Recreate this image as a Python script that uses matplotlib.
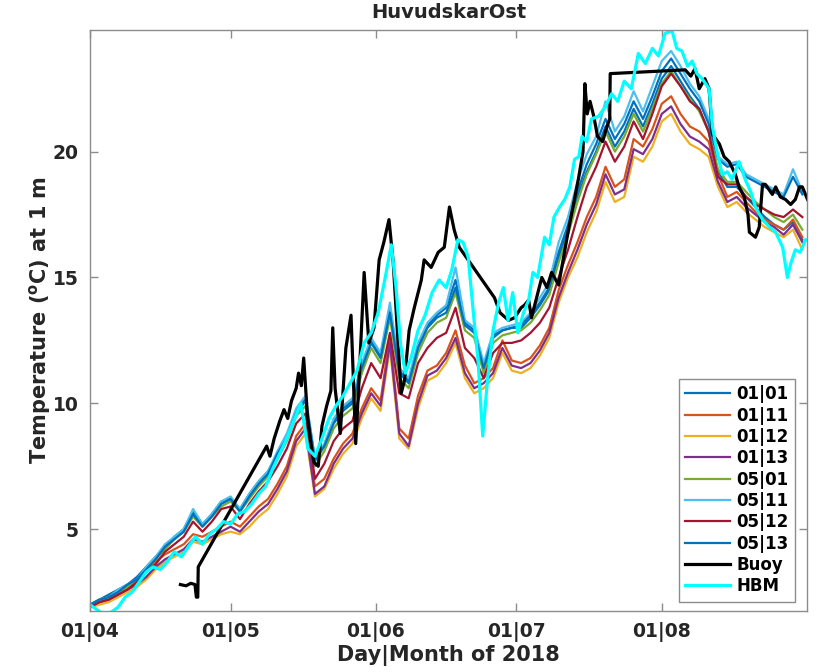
import numpy as np
import matplotlib
matplotlib.use('Agg')
import matplotlib.pyplot as plt

plt.rcParams['font.family'] = ['DejaVu Sans']
plt.rcParams['font.weight'] = 'bold'
plt.rcParams['mathtext.fontset'] = 'dejavusans'

# model output sampled every 2 days from 01|04 (day 0) to day 152
model_days = np.arange(0, 153, 2)

m_0101 = [2.0, 2.2, 2.4, 2.6, 2.8, 3.1, 3.5, 3.9, 4.3, 4.7,
          5.0, 5.7, 5.2, 5.6, 6.1, 6.2, 5.8, 6.4, 6.9, 7.3,
          8.0, 8.7, 9.7, 10.2, 7.8, 8.3, 9.3, 9.8, 10.1, 11.5,
          12.5, 11.9, 13.8, 11.3, 10.9, 12.3, 13.1, 13.5, 13.8, 14.9,
          13.2, 12.9, 11.5, 12.7, 12.9, 13.0, 13.0, 13.4, 13.9, 14.5,
          15.8, 16.9, 18.2, 19.2, 20.0, 21.0, 20.2, 20.8, 21.7, 21.0,
          21.9, 22.9, 23.4, 22.8, 22.2, 21.7, 20.8, 19.2, 18.6, 18.6,
          18.2, 17.8, 17.4, 17.1, 16.9, 17.2, 16.5]
m_0111 = [2.0, 2.1, 2.3, 2.5, 2.7, 2.9, 3.3, 3.7, 4.0, 4.2,
          4.4, 4.8, 4.7, 4.9, 5.1, 5.3, 5.1, 5.5, 5.9, 6.2,
          6.8, 7.5, 8.7, 9.2, 6.7, 7.0, 7.8, 8.4, 8.8, 9.8,
          10.6, 10.1, 12.7, 9.0, 8.6, 10.3, 11.3, 11.5, 12.0, 12.9,
          11.5, 10.8, 11.0, 11.4, 12.5, 11.7, 11.6, 11.8, 12.3, 13.0,
          14.5, 15.5, 16.4, 17.4, 18.2, 19.4, 18.6, 18.9, 20.5, 20.2,
          20.9, 21.9, 22.2, 21.5, 21.0, 20.8, 20.4, 19.1, 18.2, 18.4,
          18.0, 17.6, 17.3, 17.1, 16.9, 17.3, 16.6]
m_0112 = [1.9, 2.0, 2.1, 2.3, 2.5, 2.7, 3.0, 3.4, 3.7, 3.9,
          4.1, 4.5, 4.4, 4.6, 4.8, 4.9, 4.8, 5.1, 5.5, 5.8,
          6.4, 7.1, 8.3, 8.8, 6.3, 6.6, 7.4, 8.0, 8.4, 9.4,
          10.2, 9.7, 12.2, 8.6, 8.2, 9.8, 10.9, 11.1, 11.6, 12.4,
          11.0, 10.4, 10.6, 11.0, 12.0, 11.3, 11.2, 11.4, 11.9, 12.6,
          14.0, 15.0, 15.8, 16.8, 17.6, 18.8, 18.0, 18.2, 19.8, 19.6,
          20.2, 21.2, 21.5, 20.8, 20.3, 20.1, 19.8, 18.6, 17.8, 18.0,
          17.6, 17.3, 17.0, 16.8, 16.6, 16.9, 16.1]
m_0113 = [2.0, 2.1, 2.2, 2.4, 2.6, 2.8, 3.1, 3.5, 3.8, 4.0,
          4.2, 4.6, 4.5, 4.7, 4.9, 5.1, 4.9, 5.3, 5.7, 6.0,
          6.6, 7.3, 8.5, 9.0, 6.4, 6.7, 7.6, 8.2, 8.6, 9.6,
          10.4, 9.9, 12.4, 8.8, 8.3, 10.0, 11.1, 11.3, 11.8, 12.6,
          11.2, 10.6, 10.8, 11.2, 12.2, 11.5, 11.4, 11.6, 12.1, 12.8,
          14.2, 15.2, 16.1, 17.1, 17.9, 19.1, 18.3, 18.5, 20.1, 19.9,
          20.5, 21.5, 21.8, 21.1, 20.6, 20.4, 20.1, 18.8, 18.0, 18.2,
          17.8, 17.5, 17.2, 17.0, 16.7, 17.1, 16.4]
m_0501 = [2.0, 2.2, 2.3, 2.5, 2.7, 3.0, 3.4, 3.8, 4.2, 4.6,
          4.9, 5.5, 5.1, 5.5, 5.9, 6.1, 5.7, 6.2, 6.7, 7.1,
          7.8, 8.5, 9.5, 9.9, 7.5, 8.1, 9.0, 9.5, 9.8, 11.2,
          12.2, 11.6, 13.4, 11.0, 10.6, 12.0, 12.8, 13.2, 13.4, 14.4,
          12.9, 12.6, 11.2, 12.4, 12.7, 12.8, 12.9, 13.2, 13.7, 14.3,
          15.6, 16.7, 18.0, 19.1, 19.9, 20.8, 20.0, 20.6, 21.5, 20.8,
          21.7, 22.7, 23.2, 22.6, 22.1, 21.6, 20.8, 19.3, 18.8, 18.8,
          18.4, 18.0, 17.7, 17.4, 17.2, 17.5, 16.9]
m_0511 = [2.0, 2.2, 2.3, 2.6, 2.8, 3.0, 3.5, 3.9, 4.4, 4.7,
          5.0, 5.8, 5.2, 5.6, 6.1, 6.3, 5.8, 6.4, 6.9, 7.3,
          8.1, 8.8, 9.8, 10.3, 7.8, 8.4, 9.4, 9.9, 10.2, 11.6,
          12.6, 12.0, 14.0, 11.4, 11.0, 12.4, 13.2, 13.6, 13.9, 15.4,
          13.3, 13.0, 11.6, 12.8, 13.0, 13.1, 13.2, 13.6, 14.2, 14.8,
          16.4, 17.4, 18.8, 19.9, 20.6, 22.0, 20.8, 21.4, 22.4, 21.6,
          22.6, 23.6, 24.0, 23.4, 22.7, 22.2, 21.3, 19.8, 19.5, 19.6,
          19.1, 18.9, 18.7, 18.5, 18.3, 19.3, 18.4]
m_0512 = [1.9, 2.1, 2.2, 2.4, 2.6, 2.9, 3.3, 3.6, 4.1, 4.4,
          4.7, 5.3, 4.9, 5.3, 5.8, 5.9, 5.4, 6.0, 6.5, 6.9,
          7.5, 8.2, 9.2, 9.6, 7.0, 7.6, 8.5, 9.0, 9.3, 10.6,
          11.6, 11.0, 12.8, 10.4, 10.2, 11.6, 12.2, 12.6, 12.8, 13.8,
          12.2, 11.8, 11.0, 12.0, 12.4, 12.4, 12.5, 12.8, 13.2, 13.8,
          15.0, 16.1, 17.4, 18.6, 19.4, 20.4, 19.6, 20.2, 21.2, 20.5,
          21.5, 22.6, 23.1, 22.6, 22.0, 21.7, 20.8, 19.0, 18.7, 18.7,
          18.2, 17.9, 17.7, 17.5, 17.4, 17.7, 17.4]
m_0513 = [2.0, 2.2, 2.3, 2.5, 2.8, 3.0, 3.4, 3.8, 4.3, 4.6,
          4.9, 5.6, 5.1, 5.5, 6.0, 6.2, 5.7, 6.3, 6.8, 7.2,
          8.0, 8.6, 9.6, 10.1, 7.7, 8.3, 9.2, 9.7, 10.0, 11.4,
          12.4, 11.8, 13.6, 11.2, 10.8, 12.2, 13.0, 13.4, 13.6, 14.6,
          13.1, 12.8, 11.4, 12.6, 12.9, 13.0, 13.1, 13.5, 14.0, 14.6,
          16.0, 17.1, 18.4, 19.5, 20.3, 21.3, 20.5, 21.1, 22.0, 21.3,
          22.2, 23.2, 23.7, 23.1, 22.5, 22.0, 21.1, 19.7, 19.4, 19.5,
          19.0, 18.8, 18.6, 18.4, 18.2, 19.0, 18.3]

# buoy observations (gaps are bridged by straight lines, as in the original)
buoy_days = [19.3, 20.5, 21.5, 22.4, 22.7, 23.0, 23.1, 37.7, 38.4, 39.3,
             40.5, 41.4, 42.2, 43.0, 44.0, 44.5, 45.1, 45.6, 46.4, 47.3,
             47.8, 48.7, 49.5, 50.5, 51.4, 51.8, 52.3, 53.4, 54.6, 55.7,
             56.7, 57.4, 58.5, 59.5, 60.6, 61.7, 62.7, 63.8, 64.7, 65.8,
             66.4, 67.1, 68.1, 69.2, 70.7, 71.3, 72.8, 74.3, 75.6, 76.7,
             77.7, 78.8, 86.3, 87.5, 89.3, 90.6, 92.0, 92.7, 93.6, 94.2,
             95.3, 96.4, 97.5, 98.5, 100.0, 102.0, 104.2, 105.2, 105.6, 106.1,
             106.7, 107.5, 108.3, 109.4, 110.3, 110.9, 111.0, 127.0, 128.2, 129.1,
             130.0, 131.2, 132.1, 132.8, 134.3, 135.3, 136.4, 137.7, 138.5, 139.6,
             140.4, 140.7, 142.0, 142.8, 143.5, 144.1, 145.6, 146.3, 147.3, 148.4,
             149.5, 150.5, 151.4, 152.0, 153.1]
buoy_vals = [2.8, 2.75, 2.85, 2.8, 2.3, 2.3, 3.5, 8.3, 7.9, 8.6,
             9.3, 9.75, 9.4, 10.1, 10.6, 11.2, 10.7, 11.8, 9.5, 8.2,
             7.65, 7.5, 9.1, 9.9, 10.5, 13.0, 10.6, 8.8, 12.2, 13.5,
             8.4, 10.9, 15.2, 12.4, 13.0, 15.7, 16.4, 17.3, 15.6, 12.2,
             10.4, 10.9, 12.9, 13.8, 14.9, 15.7, 15.4, 16.0, 16.2, 17.8,
             16.9, 16.2, 14.2, 13.6, 13.3, 13.4, 13.8, 13.9, 14.1, 13.4,
             14.2, 15.0, 14.6, 15.2, 14.7, 16.8, 18.9, 20.0, 22.7, 21.5,
             22.0, 21.4, 20.6, 20.4, 21.0, 21.3, 23.1, 23.25, 23.0, 23.3,
             22.5, 22.9, 22.5, 20.7, 20.3, 19.8, 19.6, 19.1, 18.6, 18.2,
             17.5, 16.8, 16.6, 17.0, 18.7, 18.7, 18.3, 18.6, 18.2, 18.1,
             17.9, 18.1, 18.6, 18.6, 18.1]

hbm_days = [0, 1.5, 3, 4.5, 6, 7.5, 9, 10.5, 12, 13.5,
            15, 16.5, 18, 19.5, 21, 22.5, 24, 25.5, 27, 28.5,
            30, 31.5, 33, 34.5, 36, 37.5, 39, 40.5, 42, 43.5,
            45, 46.5, 48, 49.5, 51, 52.5, 54, 55.5, 57, 58.5,
            60, 61.5, 63, 64.3, 65.3, 66.3, 67.3, 68.5, 70, 71.5,
            73, 74.5, 76, 77.2, 78.5, 79.6, 80.7, 81.8, 82.8, 83.8,
            84.8, 86, 87.2, 88.2, 89.2, 90.2, 91.3, 92.5, 93.6, 94.5,
            95.5, 97, 98, 99, 100.2, 101.3, 102.4, 103.4, 104.3, 105,
            106, 107, 108.5, 110, 111.3, 112.6, 114, 115.5, 117, 118.5,
            120, 121.3, 122.7, 124.2, 125.2, 126.3, 127.5, 128.5, 129.5, 130.6,
            132.1, 132.8, 133.8, 134.9, 136, 137, 138.5, 139.8, 141, 142,
            143.5, 145, 146.3, 147.8, 148.8, 149.6, 150.5, 151.5, 152.7]
hbm_vals = [2.0, 1.8, 1.6, 1.7, 1.9, 2.3, 2.5, 2.9, 3.3, 3.5,
            3.4, 3.7, 4.1, 3.9, 4.3, 4.7, 4.4, 4.8, 5.0, 5.3,
            5.2, 5.6, 5.7, 6.0, 6.4, 6.7, 7.4, 8.0, 8.6, 9.3,
            10.0, 8.2, 7.9, 8.6, 9.4, 9.9, 10.3, 10.8, 11.3, 12.4,
            12.8, 13.6, 15.0, 16.3, 14.6, 12.3, 11.2, 11.8, 12.9, 13.5,
            14.4, 14.9, 14.6, 15.3, 16.5, 16.4, 15.8, 13.6, 11.7, 8.7,
            10.9, 12.9, 14.0, 14.6, 13.3, 14.4, 12.8, 13.6, 14.1, 15.2,
            15.0, 16.6, 16.3, 17.4, 17.8, 18.1, 18.6, 19.7, 19.8, 20.6,
            20.4, 21.3, 21.4, 21.8, 22.3, 22.0, 22.8, 22.5, 23.9, 23.5,
            24.1, 23.8, 24.7, 24.8, 24.1, 24.0, 23.4, 23.6, 23.1, 22.9,
            22.5, 21.0, 20.0, 19.1, 19.2, 18.9, 19.6, 18.9, 18.4, 17.8,
            17.3, 17.0, 16.8, 16.2, 15.0, 15.6, 16.1, 16.0, 16.5]

series_names = ['01|01', '01|11', '01|12', '01|13', '05|01', '05|11', '05|12', '05|13']
series_vals = [m_0101, m_0111, m_0112, m_0113, m_0501, m_0511, m_0512, m_0513]
series_colors = ['#0072BD', '#D95319', '#EDB120', '#7E2F8E',
                 '#77AC30', '#4DBEEE', '#A2142F', '#0072BD']

tick_days = [0, 30, 61, 91, 122]
tick_labels = ['01|04', '01|05', '01|06', '01|07', '01|08']

fig = plt.figure(figsize=(8.21, 6.72), dpi=100)
ax = fig.add_axes([0.1096, 0.0908, 0.8734, 0.8652])

for name, vals, col in zip(series_names, series_vals, series_colors):
    ax.plot(model_days, vals, color=col, lw=1.6, label=name)
ax.plot(buoy_days, buoy_vals, color='black', lw=2.3, label='Buoy')
ax.plot(hbm_days, hbm_vals, color='cyan', lw=2.3, label='HBM')

ax.set_xlim(0, 153)
ax.set_ylim(1.75, 24.85)
ax.set_xticks(tick_days)
ax.set_xticklabels(tick_labels)
ax.set_yticks([5, 10, 15, 20])

gray = '#8c8c8c'
for s in ax.spines.values():
    s.set_color(gray)
    s.set_linewidth(1.0)
ax.tick_params(direction='in', length=6, width=1.0, color=gray,
               top=True, right=True, labelsize=13.5, labelcolor='#262626', pad=8)
for lab in ax.get_xticklabels() + ax.get_yticklabels():
    lab.set_fontweight('bold')

ax.set_title('HuvudskarOst', fontsize=14, fontweight='bold', color='#262626', pad=8)
ax.set_xlabel('Day|Month of 2018', fontsize=15, fontweight='bold', color='#262626', labelpad=2)
ax.set_ylabel(r'Temperature ($\mathbf{^o}$C) at 1 m', fontsize=15, fontweight='bold',
              color='#262626', labelpad=0)

leg = ax.legend(loc='lower right', bbox_to_anchor=(795 / 821, (672 - 602) / 672),
                bbox_transform=fig.transFigure, borderaxespad=0, fancybox=False,
                framealpha=1, edgecolor=gray, handlelength=2.7, handletextpad=0.35,
                labelspacing=0.2, borderpad=0.4, prop={'size': 12, 'weight': 'bold'})
leg.get_frame().set_linewidth(1.0)

fig.savefig('out.png', dpi=100)
